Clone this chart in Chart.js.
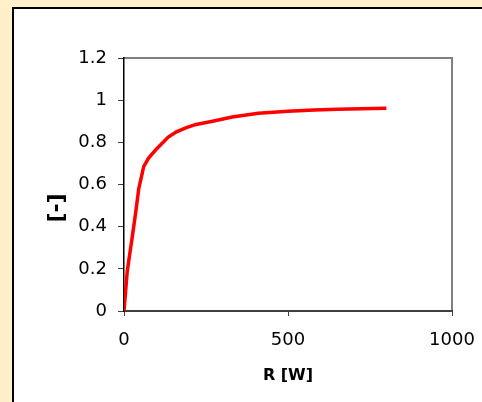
<!DOCTYPE html>
<html>
<head>
<meta charset="utf-8">
<script src="https://cdn.jsdelivr.net/npm/chart.js@4/dist/chart.umd.min.js"></script>
<style>
  html, body { margin: 0; padding: 0; background: #FFF0C9; }
  #wrap { width: 482px; height: 402px; }
</style>
</head>
<body>
<div id="wrap"><canvas id="c" width="482" height="402"></canvas></div>
<script>
// Load resistance R [W] and the resulting ratio [-]
const resistance = [0, 10, 25, 35, 45, 60, 75, 100, 135, 160, 190, 220, 270, 330, 410, 500, 580, 650, 800];
const ratio      = [0, 0.19, 0.35, 0.46, 0.58, 0.685, 0.725, 0.77, 0.825, 0.85, 0.87, 0.885, 0.9, 0.92, 0.938, 0.948, 0.953, 0.957, 0.962];

const xTicks = [0, 500, 1000];
const yTicks = [0, 0.2, 0.4, 0.6, 0.8, 1, 1.2];

const FONT = "'DejaVu Sans', Verdana, sans-serif";

// Page frame: beige surround with a white panel edged in black,
// plus the gray top/right sides of the plot area.
const framePlugin = {
  id: 'frame',
  beforeDraw(chart) {
    const ctx = chart.ctx;
    ctx.save();
    ctx.fillStyle = '#FFF0C9';
    ctx.fillRect(0, 0, chart.width, chart.height);
    ctx.fillStyle = '#FFFFFF';
    ctx.fillRect(13, 8, chart.width - 13, chart.height - 8);
    ctx.fillStyle = '#000000';
    ctx.fillRect(12, 7, 2, chart.height - 7);
    ctx.fillRect(12, 7, chart.width - 12, 2);
    const a = chart.chartArea;
    ctx.strokeStyle = '#808080';
    ctx.lineWidth = 2;
    ctx.beginPath();
    ctx.moveTo(a.left, a.top);
    ctx.lineTo(a.right, a.top);
    ctx.lineTo(a.right, a.bottom);
    ctx.stroke();
    ctx.restore();
  },
  afterDraw(chart) {
    // vertical axis title
    const ctx = chart.ctx;
    ctx.save();
    ctx.translate(57, 208);
    ctx.rotate(-Math.PI / 2);
    ctx.font = "bold 22px " + FONT;
    ctx.fillStyle = '#000000';
    ctx.textAlign = 'center';
    ctx.textBaseline = 'middle';
    ctx.fillText('[-]', 0, 0);
    ctx.restore();
  }
};

new Chart(document.getElementById('c'), {
  type: 'line',
  data: {
    datasets: [{
      data: resistance.map((r, i) => ({ x: r, y: ratio[i] })),
      borderColor: '#FF0000',
      borderWidth: 3.5,
      pointRadius: 0,
      tension: 0,
      fill: false
    }]
  },
  options: {
    responsive: false,
    animation: false,
    devicePixelRatio: 1,
    layout: { padding: { left: 0, top: 58, right: 30, bottom: 0 } },
    plugins: { legend: { display: false }, tooltip: { enabled: false } },
    scales: {
      x: {
        type: 'linear',
        min: 0, max: 1000,
        afterBuildTicks(scale) { scale.ticks = xTicks.map(v => ({ value: v })); },
        afterFit(scale) { scale.height = 91; scale.paddingLeft = 0; scale.paddingRight = 0; },
        grid: { display: true, drawOnChartArea: false, drawTicks: true, tickLength: 5, color: '#404040', lineWidth: 1 },
        border: { display: true, color: '#404040', width: 2 },
        ticks: { color: '#000000', font: { family: FONT, size: 18 }, padding: 14, maxRotation: 0,
                 callback: v => String(v) },
        title: { display: true, text: 'R [W]', color: '#000000', font: { family: FONT, size: 16, weight: 'bold' }, padding: { top: 0, bottom: 17 } }
      },
      y: {
        type: 'linear',
        min: 0, max: 1.2,
        afterBuildTicks(scale) { scale.ticks = yTicks.map(v => ({ value: v })); },
        afterFit(scale) { scale.width = 124; scale.paddingTop = 0; scale.paddingBottom = 0; },
        grid: { display: true, drawOnChartArea: false, drawTicks: true, tickLength: 6, color: '#404040', lineWidth: 1 },
        border: { display: true, color: '#000000', width: 1.5 },
        ticks: { color: '#000000', font: { family: FONT, size: 18 }, padding: 11,
                  callback: v => String(Number(v.toFixed(1))) }
      }
    }
  },
  plugins: [framePlugin]
});
</script>
</body>
</html>
